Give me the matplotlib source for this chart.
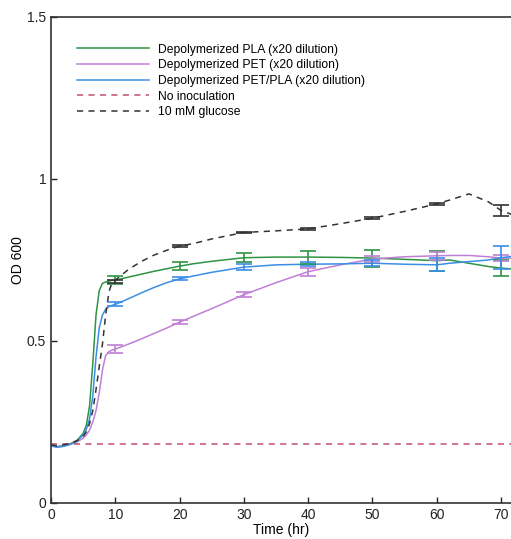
import matplotlib
matplotlib.use("Agg")
import matplotlib.pyplot as plt

plt.rcParams['font.family'] = ['Liberation Sans', 'DejaVu Sans']

time = [0, 1, 2, 3, 4, 5, 5.5, 6, 6.5, 7, 7.5, 8, 8.5, 9, 9.5, 10, 12, 14, 16, 18,
        20, 22, 25, 30, 35, 40, 45, 50, 55, 60, 62, 65, 68, 70, 72]

pla = [0.178, 0.174, 0.178, 0.183, 0.192, 0.215, 0.24, 0.30, 0.43, 0.58, 0.655, 0.678,
       0.682, 0.685, 0.687, 0.688, 0.697, 0.706, 0.715, 0.723, 0.731, 0.738, 0.746,
       0.757, 0.759, 0.759, 0.758, 0.756, 0.752, 0.748, 0.750, 0.740, 0.730, 0.725, 0.722]

pet = [0.177, 0.173, 0.176, 0.181, 0.188, 0.200, 0.21, 0.225, 0.25, 0.285, 0.34, 0.41,
       0.455, 0.467, 0.472, 0.475, 0.490, 0.506, 0.523, 0.540, 0.558, 0.575, 0.600,
       0.643, 0.680, 0.714, 0.735, 0.753, 0.760, 0.763, 0.764, 0.764, 0.760, 0.756, 0.755]

petpla = [0.176, 0.172, 0.175, 0.181, 0.190, 0.210, 0.228, 0.26, 0.33, 0.45, 0.54, 0.58,
          0.598, 0.606, 0.610, 0.613, 0.630, 0.648, 0.665, 0.680, 0.692, 0.700, 0.712,
          0.728, 0.735, 0.737, 0.738, 0.740, 0.737, 0.735, 0.740, 0.745, 0.750, 0.757, 0.762]

noinoc = [0.181] * len(time)

glucose = [0.180, 0.176, 0.180, 0.184, 0.192, 0.205, 0.22, 0.245, 0.285, 0.35, 0.42, 0.49,
           0.58, 0.65, 0.682, 0.688, 0.72, 0.745, 0.765, 0.780, 0.793, 0.800, 0.815,
           0.835, 0.840, 0.846, 0.862, 0.879, 0.900, 0.923, 0.935, 0.954, 0.930, 0.903, 0.888]

err_t = [10, 20, 30, 40, 50, 60, 70]
pla_m = [0.688, 0.732, 0.757, 0.759, 0.755, 0.747, 0.725]
pla_e = [0.012, 0.013, 0.014, 0.020, 0.026, 0.030, 0.025]
pet_m = [0.475, 0.558, 0.643, 0.714, 0.753, 0.763, 0.756]
pet_e = [0.012, 0.006, 0.008, 0.012, 0.010, 0.012, 0.008]
petpla_m = [0.613, 0.692, 0.728, 0.737, 0.740, 0.735, 0.757]
petpla_e = [0.006, 0.005, 0.010, 0.007, 0.010, 0.020, 0.035]
glu_m = [0.683, 0.793, 0.835, 0.846, 0.879, 0.923, 0.903]
glu_e = [0.004, 0.002, 0.002, 0.002, 0.003, 0.004, 0.017]

labels = ["Depolymerized PLA (x20 dilution)", "Depolymerized PET (x20 dilution)",
          "Depolymerized PET/PLA (x20 dilution)", "No inoculation", "10 mM glucose"]

c_green = '#2e9444'
c_purple = '#c07fd6'
c_blue = '#3a8ee6'
c_red = '#c2506b'
c_black = '#333333'

fig = plt.figure(figsize=(5.11, 5.39), dpi=100)
ax = fig.add_axes([51/511, 36/539, 460/511, 486/539])

ax.plot(time, pla, color=c_green, lw=1.1, label=labels[0])
ax.plot(time, pet, color=c_purple, lw=1.1, label=labels[1])
ax.plot(time, petpla, color=c_blue, lw=1.1, label=labels[2])
ax.plot(time, noinoc, color=c_red, lw=1.1, ls=(0, (4, 3.5)), label=labels[3])
ax.plot(time, glucose, color=c_black, lw=1.1, ls=(0, (4, 3.5)), label=labels[4])

for m, e, c in [(pla_m, pla_e, c_green), (pet_m, pet_e, c_purple),
                (petpla_m, petpla_e, c_blue), (glu_m, glu_e, c_black)]:
    ax.errorbar(err_t, m, yerr=e, fmt='none', ecolor=c, elinewidth=1.2,
                capsize=5.5, capthick=1.2)

ax.set_xlim(0, 71.55)
ax.set_ylim(0, 1.5)
ax.set_xticks([0, 10, 20, 30, 40, 50, 60, 70])
ax.set_yticks([0, 0.5, 1, 1.5])
ax.set_yticklabels(['0', '0.5', '1', '1.5'])
ax.tick_params(direction='in', length=4, width=1, labelsize=10, colors='#222222')
ax.spines['right'].set_visible(False)
for s in ['left', 'bottom', 'top']:
    ax.spines[s].set_linewidth(1.2)
    ax.spines[s].set_color('#333333')

ax.set_xlabel('Time (hr)', fontsize=10, labelpad=1)
ax.set_ylabel('OD 600', fontsize=10, labelpad=1)

ax.legend(loc='upper left', bbox_to_anchor=(0.046, 0.955), frameon=False, fontsize=8.75,
          handlelength=5.9, labelspacing=0.3, handletextpad=0.74, borderaxespad=0)

fig.savefig('out.png', dpi=100)
